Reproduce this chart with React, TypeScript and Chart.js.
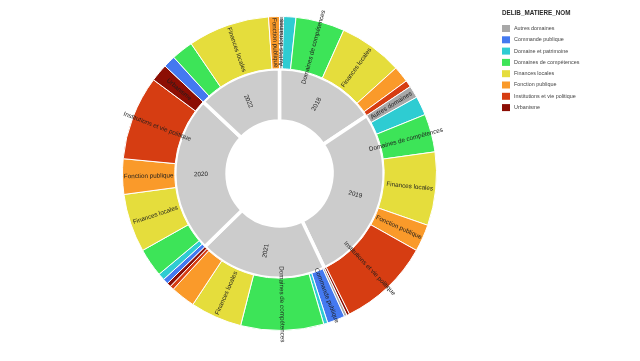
import React, { useEffect, useRef } from "react";
import { Chart, registerables } from "chart.js";

Chart.register(...registerables);

// Years in the order drawn clockwise from 12 o'clock
const YEARS = ["2018", "2019", "2021", "2020", "2022"];

const MATIERES = [
  "Autres domaines",
  "Commande publique",
  "Domaine et patrimoine",
  "Domaines de compétences",
  "Finances locales",
  "Fonction publique",
  "Institutions et vie politique",
  "Urbanisme",
];

const MATIERE_COLORS = [
  "#A8A8A8",
  "#4479F0",
  "#2ECCD2",
  "#3DE458",
  "#E5DD3C",
  "#FA9A2A",
  "#D63D12",
  "#8C0E04",
];

const YEAR_COLOR = "#CCCCCC";

// Number of deliberations per matière (same order as MATIERES)
const V2018 = [3, 0, 9, 36, 47, 12, 5, 0];
const V2019 = [9, 0, 14, 28, 54, 20, 68, 2];
const V2021 = [2, 13, 3, 61, 38, 18, 3, 3];
const V2020 = [0, 4, 5, 21, 43, 26, 62, 13];
const V2022 = [0, 9, 0, 16, 60, 8, 0, 0];

const VALUES_BY_YEAR: Record<string, number[]> = {
  "2018": V2018,
  "2019": V2019,
  "2021": V2021,
  "2020": V2020,
  "2022": V2022,
};

// Labels that are printed on the outer ring
const SHOWN_2018 = ["Autres domaines", "Domaines de compétences", "Finances locales"];
const SHOWN_2019 = ["Autres domaines", "Domaines de compétences", "Finances locales", "Fonction publique", "Institutions et vie politique"];
const SHOWN_2021 = ["Commande publique", "Domaines de compétences", "Finances locales"];
const SHOWN_2020 = ["Finances locales", "Fonction publique", "Institutions et vie politique", "Urbanisme"];
const SHOWN_2022 = ["Finances locales", "Fonction publique"];

const SHOWN_BY_YEAR: Record<string, string[]> = {
  "2018": SHOWN_2018,
  "2019": SHOWN_2019,
  "2021": SHOWN_2021,
  "2020": SHOWN_2020,
  "2022": SHOWN_2022,
};

const LEGEND_TITLE = "DELIB_MATIERE_NOM";
const FONT = "'Liberation Sans', Arial, sans-serif";

const labelPlugin = {
  id: "sunLabels",
  afterDatasetsDraw(chart: any) {
    const ctx = chart.ctx;
    chart.data.datasets.forEach((ds: any, di: number) => {
      const meta = chart.getDatasetMeta(di);
      meta.data.forEach((arc: any, i: number) => {
        const text = ds.sliceText ? ds.sliceText[i] : "";
        if (!text) return;
        const p = arc.getProps(["x", "y", "startAngle", "endAngle", "innerRadius", "outerRadius"], true);
        const mid = (p.startAngle + p.endAngle) / 2;
        const r = (p.innerRadius + p.outerRadius) / 2;
        const px = p.x + Math.cos(mid) * r;
        const py = p.y + Math.sin(mid) * r;
        let rot = mid;
        if (rot > Math.PI / 2) rot -= Math.PI;
        ctx.save();
        ctx.translate(px, py);
        ctx.rotate(rot);
        ctx.font = `6.3px ${FONT}`;
        ctx.textAlign = "center";
        ctx.textBaseline = "middle";
        ctx.fillStyle = "#1E1E1E";
        ctx.fillText(text, 0, 0);
        ctx.restore();
      });
    });
  },
  afterDraw(chart: any) {
    const ctx = chart.ctx;
    ctx.save();
    ctx.font = `bold 6.3px ${FONT}`;
    ctx.fillStyle = "#2A2A2A";
    ctx.textAlign = "left";
    ctx.textBaseline = "middle";
    ctx.fillText(LEGEND_TITLE, 502, 13.5);
    MATIERES.forEach((m, i) => {
      const cy = 28.5 + i * 11.3;
      ctx.fillStyle = MATIERE_COLORS[i];
      ctx.fillRect(502, cy - 3.5, 8, 7);
      ctx.fillStyle = "#444444";
      ctx.font = `5.4px ${FONT}`;
      ctx.fillText(m, 514, cy);
    });
    ctx.restore();
  },
};

export default function App() {
  const canvasRef = useRef<HTMLCanvasElement | null>(null);

  useEffect(() => {
    if (!canvasRef.current) return;

    const outerData: number[] = [];
    const outerColors: string[] = [];
    const outerText: string[] = [];
    const outerLabels: string[] = [];
    YEARS.forEach((y) => {
      const vals = VALUES_BY_YEAR[y];
      const shown = SHOWN_BY_YEAR[y];
      MATIERES.forEach((m, i) => {
        if (vals[i] > 0) {
          outerData.push(vals[i]);
          outerColors.push(MATIERE_COLORS[i]);
          outerText.push(shown.includes(m) ? m : "");
          outerLabels.push(`${y} - ${m}`);
        }
      });
    });
    const innerData = YEARS.map((y) => VALUES_BY_YEAR[y].reduce((a, b) => a + b, 0));

    const chart = new Chart(canvasRef.current, {
      type: "doughnut",
      data: {
        labels: outerLabels,
        datasets: [
          {
            data: outerData,
            backgroundColor: outerColors,
            borderColor: "#FFFFFF",
            borderWidth: 1,
            sliceText: outerText,
          } as any,
          {
            data: innerData,
            backgroundColor: YEARS.map(() => YEAR_COLOR),
            borderColor: "#FFFFFF",
            borderWidth: 3.5,
            sliceText: YEARS,
          } as any,
        ],
      },
      options: {
        animation: false,
        responsive: false,
        devicePixelRatio: 1,
        radius: 157,
        cutout: "33.4%",
        layout: { padding: { left: 0, right: 81, top: 0, bottom: 14 } },
        plugins: {
          legend: { display: false },
          tooltip: { enabled: false },
        },
        events: [],
      } as any,
      plugins: [labelPlugin],
    });

    return () => chart.destroy();
  }, []);

  return (
    <div style={{ position: "absolute", left: 0, top: 0, width: 640, height: 361, background: "#FFFFFF" }}>
      <canvas ref={canvasRef} width={640} height={361} style={{ width: 640, height: 361, display: "block" }} />
    </div>
  );
}
